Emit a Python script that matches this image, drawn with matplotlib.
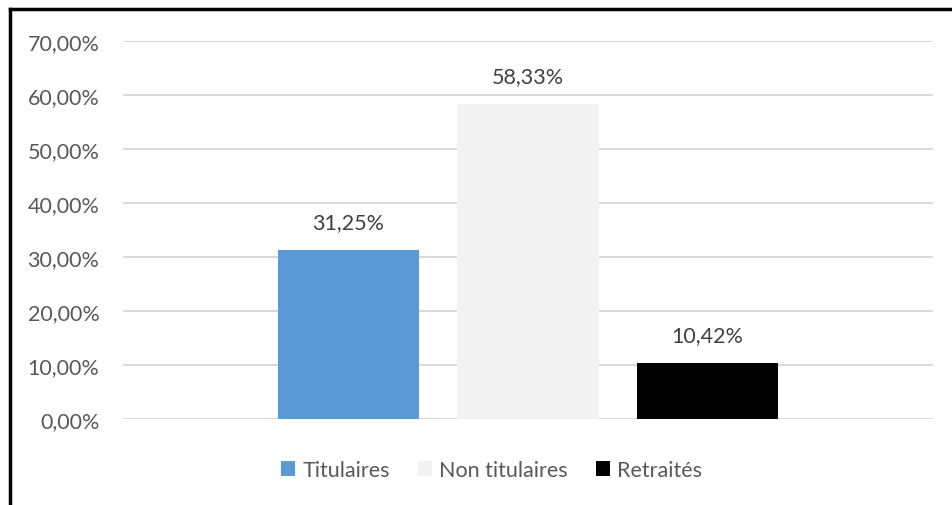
import matplotlib.pyplot as plt
from matplotlib.lines import Line2D

categories = ['Titulaires', 'Non titulaires', 'Retraités']
values = [31.25, 58.33, 10.42]
colors = ['#5B9BD5', '#F2F2F2', '#000000']
labels = ['31,25%', '58,33%', '10,42%']
yticks = [0, 10, 20, 30, 40, 50, 60, 70]

plt.rcParams['font.family'] = ['Lato', 'DejaVu Sans']

fig = plt.figure(figsize=(9.53, 5.06), dpi=100)
W, H = 953, 506
ax = fig.add_axes([123 / W, 1 - 420 / H, 810 / W, 378 / H])

for i, (cat, v, c, lab) in enumerate(zip(categories, values, colors, labels)):
    ax.bar(i, v, width=0.786, color=c, label=cat, zorder=3)
    ax.text(i, v + 3.3, lab, ha='center', va='bottom', fontsize=15.5, color='#404040')

ax.set_xlim(-1.256, 3.256)
ax.set_ylim(0, 70)
ax.set_yticks(yticks)
ax.set_yticklabels([f'{t},00%' for t in yticks], fontsize=15.5, color='#595959')
ax.set_xticks([])
ax.grid(axis='y', color='#D9D9D9', linewidth=1.4, zorder=0)
for s in ax.spines.values():
    s.set_visible(False)
ax.tick_params(axis='y', length=0, pad=17)

ax.legend(loc='center', bbox_to_anchor=(491.5 / W, (H - 471) / H), bbox_transform=fig.transFigure,
          ncol=3, frameon=False, fontsize=15.5, handlelength=0.65, handleheight=0.65,
          handletextpad=0.35, columnspacing=1.3, labelcolor='#595959')

# outer border (left and top edges)
fig.add_artist(Line2D([10 / W, 10 / W], [0, 1 - 10 / H], color='black', linewidth=2.5))
fig.add_artist(Line2D([10 / W, 1], [1 - 10 / H, 1 - 10 / H], color='black', linewidth=2.5))

fig.savefig('out.png', dpi=100)
